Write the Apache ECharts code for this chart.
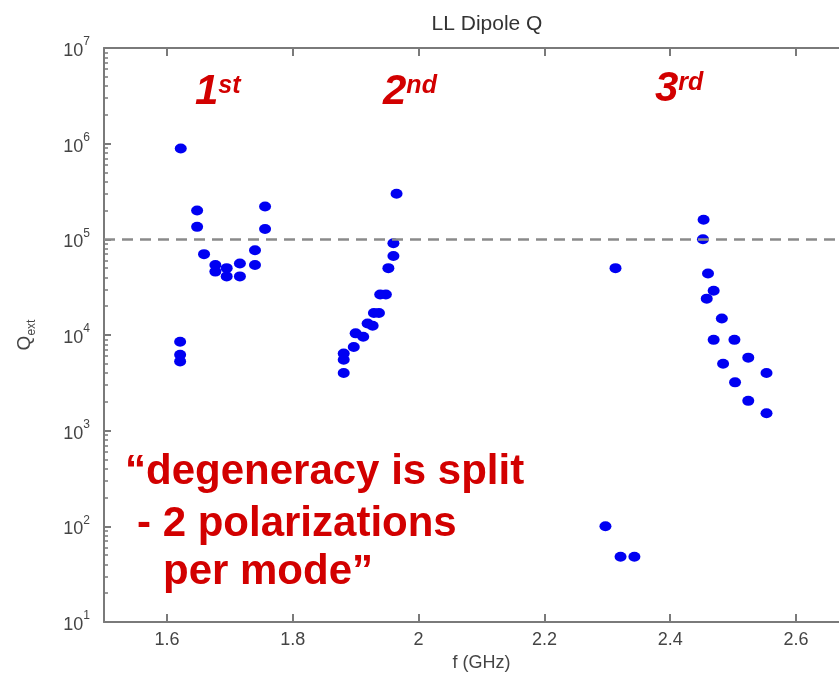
<!DOCTYPE html>
<html>
<head>
<meta charset="utf-8">
<script src="https://cdn.jsdelivr.net/npm/echarts@6/dist/echarts.min.js"></script>
<style>
    html, body { margin: 0; padding: 0; background: #fff; }
    #chart { width: 839px; height: 678px; }
</style>
</head>
<body>
<div id="chart"></div>
<script>
// f in GHz, Q_ext
var mode1F = [1.622, 1.648, 1.648, 1.756, 1.756, 1.659, 1.677, 1.677, 1.695, 1.695, 1.716, 1.716, 1.740, 1.740, 1.621, 1.621, 1.621];
var mode1Q = [8.9e5, 2.0e5, 1.35e5, 2.2e5, 1.28e5, 7.0e4, 5.4e4, 4.6e4, 5.0e4, 4.1e4, 5.6e4, 4.1e4, 7.7e4, 5.4e4, 8.5e3, 6.2e3, 5.3e3];

var mode2F = [1.965, 1.960, 1.960, 1.952, 1.948, 1.939, 1.937, 1.929, 1.927, 1.919, 1.912, 1.900, 1.897, 1.881, 1.881, 1.881];
var mode2Q = [3.0e5, 9.1e4, 6.7e4, 5.0e4, 2.65e4, 2.65e4, 1.7e4, 1.7e4, 1.25e4, 1.32e4, 9.6e3, 1.04e4, 7.5e3, 6.4e3, 5.5e3, 4.0e3];

var mode3F = [2.453, 2.452, 2.460, 2.469, 2.458, 2.482, 2.469, 2.502, 2.484, 2.524, 2.553, 2.503, 2.524, 2.553];
var mode3Q = [1.6e5, 1.0e5, 4.4e4, 2.9e4, 2.4e4, 1.49e4, 8.9e3, 8.9e3, 5.0e3, 5.8e3, 4.0e3, 3.2e3, 2.05e3, 1.52e3];

var otherF = [2.313, 2.297, 2.321, 2.343];
var otherQ = [5.0e4, 100, 48, 48];

var xTicks = [1.6, 1.8, 2, 2.2, 2.4, 2.6];
var qLimit = 1e5;

function pairs(xs, ys) {
    var out = [];
    for (var i = 0; i < xs.length; i++) {
        out.push([xs[i], ys[i]]);
    }
    return out;
}

// minor ticks of the log axis, in decade units
var minorTicks = [];
for (var d = 1; d < 7; d++) {
    for (var k = 2; k <= 9; k++) {
        minorTicks.push(d + Math.log10(k));
    }
}

var axisGray = '#7a7a7a';
var labelFont = 'Liberation Sans, Arial, sans-serif';
var red = '#d20000';
var dotColor = '#0000f2';

function dotSeries(name, data) {
    return {
        name: name,
        type: 'scatter',
        symbol: 'circle',
        symbolSize: [12, 10],
        itemStyle: { color: dotColor, opacity: 1 },
        data: data
    };
}

function ordinal(n, s) {
    return {
        text: '{n|' + n + '}{s|' + s + '}',
        rich: {
            n: { fontFamily: labelFont, fontSize: 42, fontWeight: 'bold', fontStyle: 'italic', fill: red, lineHeight: 46 },
            s: { fontFamily: labelFont, fontSize: 25, fontWeight: 'bold', fontStyle: 'italic', fill: red, lineHeight: 46, verticalAlign: 'top', padding: [5, 0, 0, 0] }
        }
    };
}

var series = [
    dotSeries('1st', pairs(mode1F, mode1Q)),
    dotSeries('2nd', pairs(mode2F, mode2Q)),
    dotSeries('3rd', pairs(mode3F, mode3Q)),
    dotSeries('other', pairs(otherF, otherQ))
];
series[0].markLine = {
    silent: true,
    symbol: ['none', 'none'],
    label: { show: false },
    lineStyle: { color: '#8a8a8a', type: [11, 7], width: 2.5 },
    data: [{ yAxis: qLimit }]
};

var option = {
    animation: false,
    backgroundColor: '#fff',
    title: {
        text: 'LL Dipole Q',
        left: 482,
        textAlign: 'center',
        top: 9,
        textStyle: {
            fontFamily: labelFont,
            fontWeight: 'normal',
            fontSize: 21,
            color: '#333'
        }
    },
    grid: {
        left: 104,
        right: -20,
        top: 48,
        bottom: 56,
        outerBoundsMode: 'none'
    },
    xAxis: [
        {
            type: 'value',
            min: 1.5,
            max: 2.7,
            name: 'f (GHz)',
            nameLocation: 'middle',
            nameGap: 31,
            nameTextStyle: { fontFamily: labelFont, fontSize: 18, color: '#444' },
            axisLine: { lineStyle: { color: axisGray, width: 2 } },
            axisTick: { inside: true, length: 8, customValues: xTicks, lineStyle: { color: axisGray, width: 2 } },
            axisLabel: { customValues: xTicks, margin: 9, fontFamily: labelFont, fontSize: 18, color: '#444' },
            splitLine: { show: false }
        },
        {
            type: 'value',
            position: 'top',
            min: 1.5,
            max: 2.7,
            axisLine: { lineStyle: { color: axisGray, width: 2 } },
            axisTick: { inside: true, length: 8, customValues: xTicks, lineStyle: { color: axisGray, width: 2 } },
            axisLabel: { show: false },
            splitLine: { show: false }
        }
    ],
    yAxis: [
        {
            type: 'log',
            logBase: 10,
            min: 10,
            max: 1e7,
            name: '{q|Q}{s|ext}',
            nameLocation: 'middle',
            nameGap: 66,
            nameTextStyle: {
                rich: {
                    q: { fontFamily: labelFont, fontSize: 19, color: '#444', lineHeight: 26 },
                    s: { fontFamily: labelFont, fontSize: 12, color: '#444', verticalAlign: 'bottom', lineHeight: 26 }
                }
            },
            axisLine: { lineStyle: { color: axisGray, width: 2 } },
            axisTick: { inside: true, length: 7, lineStyle: { color: axisGray, width: 2 } },
            axisLabel: {
                margin: 14,
                formatter: function (v) {
                    return '{b|10}{e|' + Math.round(Math.log10(v)) + '}';
                },
                rich: {
                    b: { fontFamily: labelFont, fontSize: 18, color: '#444', lineHeight: 24, verticalAlign: 'bottom' },
                    e: { fontFamily: labelFont, fontSize: 12, color: '#444', lineHeight: 24, verticalAlign: 'top' }
                }
            },
            splitLine: { show: false }
        },
        {
            // only carries the minor ticks of the log axis
            type: 'value',
            position: 'left',
            min: 1,
            max: 7,
            axisLine: { show: false },
            axisTick: { show: true, inside: true, length: 4, customValues: minorTicks, lineStyle: { color: axisGray, width: 1.5 } },
            axisLabel: { show: false },
            splitLine: { show: false }
        }
    ],
    graphic: [
        { type: 'text', left: 195, top: 69, style: ordinal('1', 'st') },
        { type: 'text', left: 383, top: 69, style: ordinal('2', 'nd') },
        { type: 'text', left: 655, top: 66, style: ordinal('3', 'rd') },
        {
            type: 'text', left: 125, top: 451,
            style: { text: '\u201cdegeneracy is split', font: 'bold 42px ' + labelFont, fill: red }
        },
        {
            type: 'text', left: 137, top: 503,
            style: { text: '- 2 polarizations', font: 'bold 42px ' + labelFont, fill: red }
        },
        {
            type: 'text', left: 163, top: 551,
            style: { text: 'per mode\u201d', font: 'bold 42px ' + labelFont, fill: red }
        }
    ],
    series: series
};

var chart = echarts.init(document.getElementById('chart'));
chart.setOption(option);
</script>
</body>
</html>
